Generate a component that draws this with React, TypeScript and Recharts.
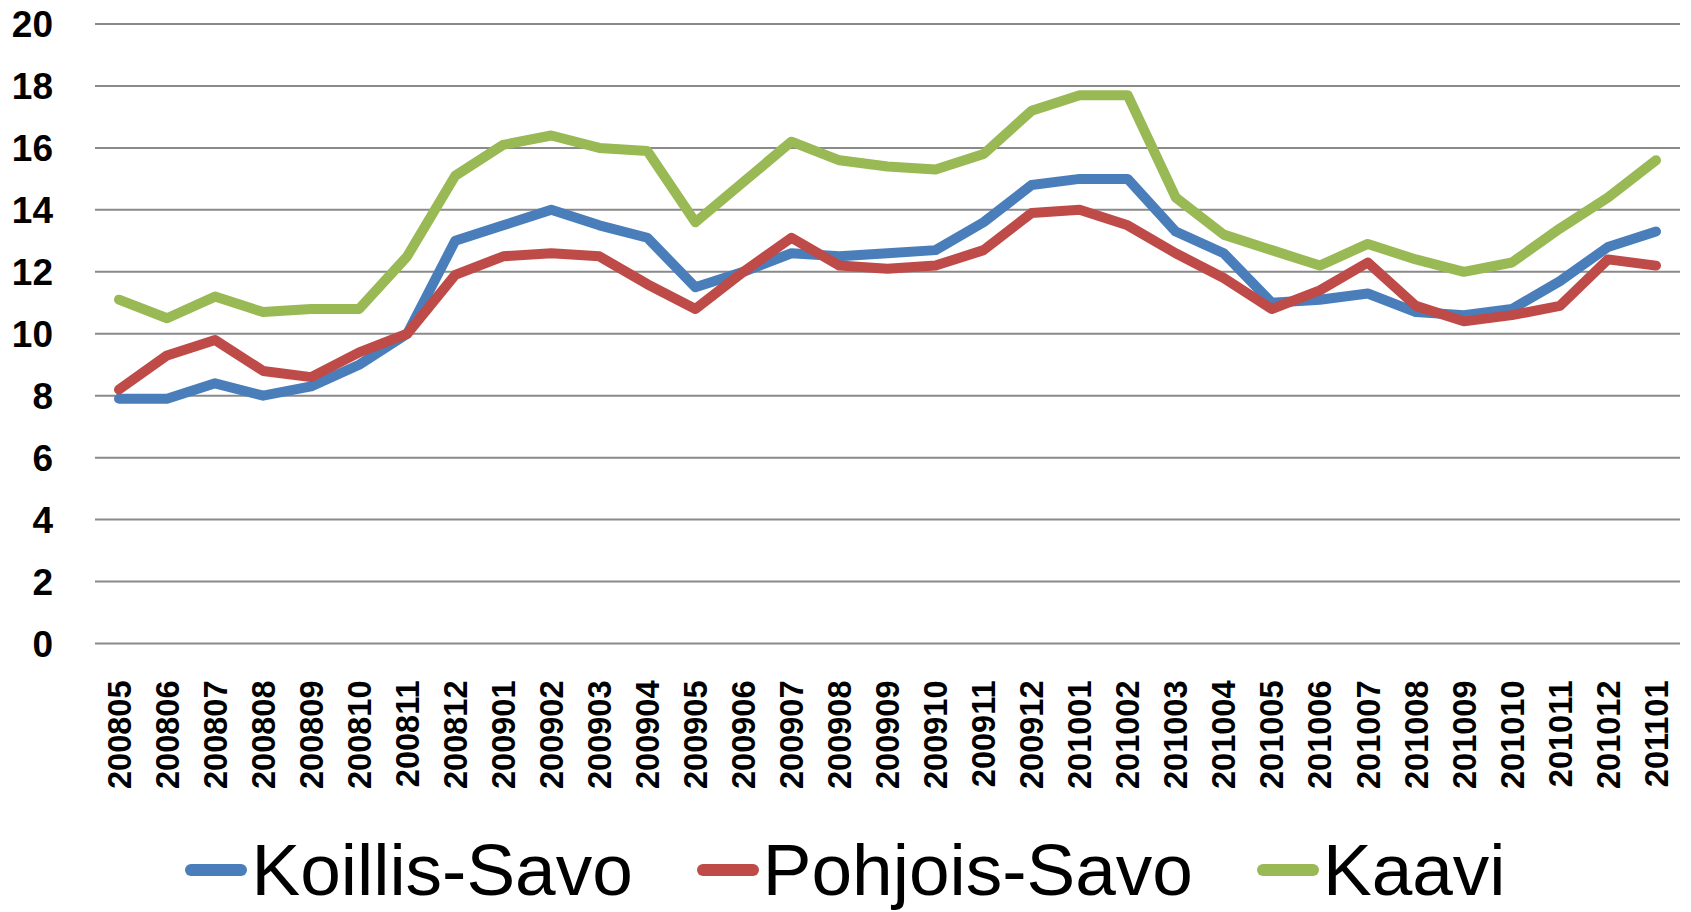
import React from 'react';
import { LineChart, Line, XAxis, YAxis, CartesianGrid, Legend } from 'recharts';

const months = [
  '200805', '200806', '200807', '200808', '200809', '200810', '200811', '200812',
  '200901', '200902', '200903', '200904', '200905', '200906', '200907', '200908',
  '200909', '200910', '200911', '200912', '201001', '201002', '201003', '201004',
  '201005', '201006', '201007', '201008', '201009', '201010', '201011', '201012',
  '201101',
];

const seriesNames = ['Koillis-Savo', 'Pohjois-Savo', 'Kaavi'];

const koillisSavo = [
  7.9, 7.9, 8.4, 8.0, 8.3, 9.0, 10.0, 13.0, 13.5, 14.0, 13.5, 13.1, 11.5, 12.0, 12.6, 12.5,
  12.6, 12.7, 13.6, 14.8, 15.0, 15.0, 13.3, 12.6, 11.0, 11.1, 11.3, 10.7, 10.6, 10.8, 11.7, 12.8,
  13.3,
];
const pohjoisSavo = [
  8.2, 9.3, 9.8, 8.8, 8.6, 9.4, 10.0, 11.9, 12.5, 12.6, 12.5, 11.6, 10.8, 12.0, 13.1, 12.2,
  12.1, 12.2, 12.7, 13.9, 14.0, 13.5, 12.6, 11.8, 10.8, 11.4, 12.3, 10.9, 10.4, 10.6, 10.9, 12.4,
  12.2,
];
const kaavi = [
  11.1, 10.5, 11.2, 10.7, 10.8, 10.8, 12.5, 15.1, 16.1, 16.4, 16.0, 15.9, 13.6, 14.9, 16.2, 15.6,
  15.4, 15.3, 15.8, 17.2, 17.7, 17.7, 14.4, 13.2, 12.7, 12.2, 12.9, 12.4, 12.0, 12.3, 13.4, 14.4,
  15.6,
];

const yTicks = [0, 2, 4, 6, 8, 10, 12, 14, 16, 18, 20];

const seriesColors = ['#4A7EBB', '#BE4B48', '#98B954'];

const data = months.map((m, i) => ({
  month: m,
  [seriesNames[0]]: koillisSavo[i],
  [seriesNames[1]]: pohjoisSavo[i],
  [seriesNames[2]]: kaavi[i],
}));

const FONT = '"Liberation Sans", Arial, Helvetica, sans-serif';

const XTick = (props: any) => {
  const { x, y, payload } = props;
  return (
    <text
      x={x}
      y={y}
      transform={`rotate(-90, ${x}, ${y})`}
      textAnchor="end"
      dy="0.36em"
      fontFamily={FONT}
      fontWeight="bold"
      fontSize={32.5}
      fill="#000"
    >
      {payload.value}
    </text>
  );
};

const renderLegend = (props: any) => {
  const payload = [...(props.payload || [])].sort(
    (a: any, b: any) => seriesNames.indexOf(a.value) - seriesNames.indexOf(b.value)
  );
  return (
    <div
      style={{
        display: 'flex',
        justifyContent: 'center',
        alignItems: 'center',
        height: 74,
        width: '100%',
      }}
    >
      {payload.map((e: any, i: number) => (
        <div
          key={i}
          style={{ display: 'flex', alignItems: 'center', marginLeft: i ? 64 : 0 }}
        >
          <div
            style={{
              width: 62,
              height: 12,
              borderRadius: 6,
              background: e.color,
              marginRight: 4,
            }}
          />
          <span
            style={{
              fontFamily: FONT,
              fontSize: 73,
              lineHeight: '74px',
              color: '#000',
              whiteSpace: 'nowrap',
            }}
          >
            {e.value}
          </span>
        </div>
      ))}
    </div>
  );
};

export default function App() {
  return (
    <div style={{ position: 'absolute', left: 0, top: 0, width: 1691, height: 912, background: '#fff' }}>
      <LineChart
        width={1691}
        height={912}
        data={data}
        margin={{ top: 24, right: 11, left: 0, bottom: 108.5 }}
      >
        <CartesianGrid vertical={false} stroke="#8A8A8A" strokeWidth={2} />
        <XAxis
          dataKey="month"
          interval={0}
          height={160}
          padding={{ left: 24, right: 24 }}
          axisLine={false}
          tickLine={false}
          tickMargin={31}
          tick={<XTick />}
        />
        <YAxis
          width={95}
          domain={[0, 20]}
          ticks={yTicks}
          interval={0}
          axisLine={false}
          tickLine={false}
          tickMargin={36}
          tick={{ fontFamily: FONT, fontWeight: 'bold', fontSize: 37, fill: '#000' }}
        />
        {seriesNames.map((name, i) => (
          <Line
            key={name}
            type="linear"
            dataKey={name}
            stroke={seriesColors[i]}
            strokeWidth={10}
            strokeLinejoin="round"
            strokeLinecap="round"
            dot={false}
            activeDot={false}
            isAnimationActive={false}
          />
        ))}
        <Legend
          layout="horizontal"
          verticalAlign="middle"
          align="center"
          itemSorter={null}
          wrapperStyle={{ top: 833, left: 0, width: 1691, height: 74 }}
          content={renderLegend}
        />
      </LineChart>
    </div>
  );
}
